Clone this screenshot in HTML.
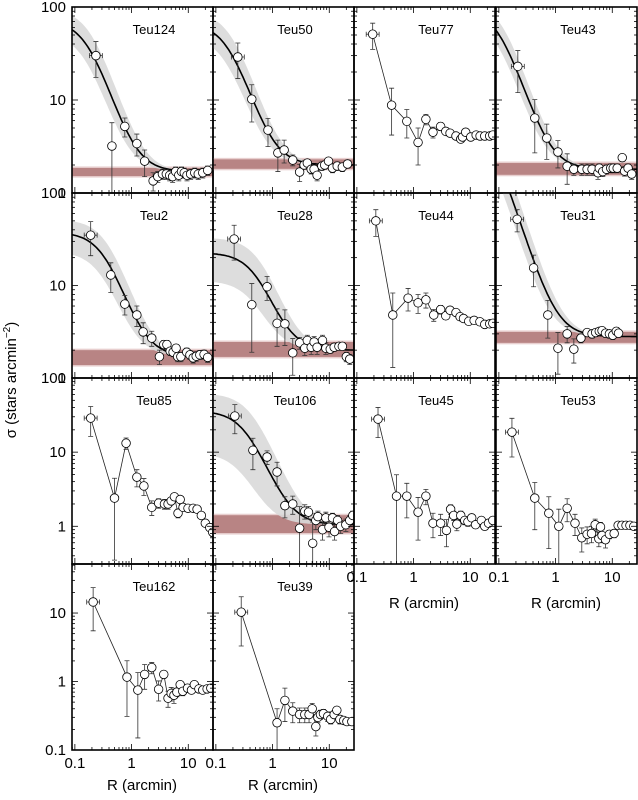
<!DOCTYPE html>
<html><head><meta charset="utf-8"><style>
html,body{margin:0;padding:0;background:#fff;}
svg{display:block;font-family:"Liberation Sans",sans-serif;}
</style></head><body>
<svg id="fig" width="638" height="800" viewBox="0 0 638 800"></svg>
<script>
// ---- data (R in arcmin, sigma in stars/arcmin^2, symmetric errors) ----
const teu124_r=[0.235,0.45,0.76,1.24,1.7,2.4,2.9,3.5,4.1,4.7,5.3,6,6.8,7.6,8.5,9.5,11,13,15,18,22];
const teu124_s=[30,3.2,5.2,3.4,2.2,1.35,1.5,1.6,1.6,1.55,1.5,1.7,1.55,1.7,1.65,1.55,1.6,1.65,1.6,1.65,1.75];
const teu124_e=[12.5,2.5,1.2,0.9,0.7,0.3,0.2,0.2,0.2,0.2,0.2,0.2,0.2,0.2,0.2,0.2,0.2,0.2,0.2,0.2,0.2];
const teu50_r=[0.244,0.43,0.83,1.24,1.6,2.27,3.0,3.6,4.1,4.8,5.4,6.1,7.4,8.3,9.7,11.4,13.8,17,21];
const teu50_s=[29,10.2,4.75,2.7,2.9,2.26,1.68,2.0,2.1,1.8,1.8,1.55,1.95,2.0,2.2,1.85,1.95,1.9,2.05];
const teu50_e=[12,4.4,1.6,1.0,0.8,0.3,0.35,0.2,0.2,0.2,0.2,0.2,0.2,0.2,0.2,0.2,0.2,0.2,0.2];
const teu77_r=[0.19,0.41,0.76,1.2,1.65,2.2,3.0,3.7,4.4,5.6,6.8,7.3,8.3,10.2,12.7,14.9,18,22,25];
const teu77_s=[51,8.8,5.9,3.5,6.2,4.5,5.2,4.6,4.4,4.1,3.8,4.0,4.5,4.0,4.2,4.1,4.1,4.1,4.2];
const teu77_e=[16,4.6,2.0,1.5,0.8,0.6,0.5,0.4,0.3,0.3,0.3,0.2,0.2,0.2,0.2,0.2,0.2,0.2,0.2];
const teu43_r=[0.216,0.43,0.7,1.1,1.6,2.1,2.9,3.6,4.4,5.6,5.9,6.8,7.9,9.4,10.4,12.2,15,16.5,19,22];
const teu43_s=[23,6.4,3.9,2.76,1.94,1.8,1.8,1.8,1.8,1.65,1.85,1.7,1.8,1.85,1.85,1.85,2.4,1.72,1.85,1.6];
const teu43_e=[11,3.7,1.6,0.9,0.7,0.25,0.25,0.25,0.25,0.25,0.2,0.2,0.2,0.2,0.2,0.2,0.2,0.2,0.2,0.2];
const teu2_r=[0.19,0.43,0.76,1.24,1.6,2.27,3.1,3.7,4.2,4.8,5.4,6.1,6.5,7.4,9.4,10.7,12.2,13.8,16,19,22];
const teu2_s=[35,13,6.3,4.8,3.15,2.7,1.7,2.3,2.3,1.95,1.9,2.1,1.7,1.7,1.9,1.78,1.65,1.72,1.78,1.8,1.67];
const teu2_e=[14,4.6,1.5,1.2,0.8,0.5,0.3,0.25,0.25,0.2,0.2,0.2,0.2,0.2,0.2,0.2,0.2,0.2,0.2,0.2,0.2];
const teu28_r=[0.21,0.43,0.8,1.2,1.65,2.27,3.0,3.7,4.1,4.8,5.4,6.1,7.6,8.7,10.4,12.2,14.8,17,20,23];
const teu28_s=[31.8,6.2,9.7,3.9,3.85,1.87,2.4,2.1,2.55,2.15,2.45,2.15,2.55,2.1,2.05,2.15,2.2,2.2,1.7,1.6];
const teu28_e=[13,4.3,2.8,1.7,1.6,0.8,0.35,0.35,0.35,0.35,0.35,0.35,0.35,0.3,0.2,0.2,0.2,0.2,0.2,0.2];
const teu44_r=[0.216,0.43,0.8,1.2,1.65,2.27,3.0,3.7,4.4,5.6,6.6,7.6,9.4,11.7,14.8,18,22,25];
const teu44_s=[50,4.8,7.3,6.5,7.0,4.8,5.5,4.7,5.4,5.1,4.6,4.4,4.1,4.2,4.05,3.8,3.85,3.9];
const teu44_e=[16,3.5,2.0,1.5,1.3,0.7,0.6,0.4,0.3,0.3,0.3,0.2,0.2,0.2,0.2,0.2,0.2,0.2];
const teu31_r=[0.21,0.41,0.73,1.1,1.6,2.1,2.8,3.6,4.4,5.1,5.9,6.6,7.6,8.9,10.2,11.8,12.9];
const teu31_s=[52,15.5,4.8,2.1,3.0,2.05,2.7,3.1,3.0,3.1,3.2,3.25,3.05,3.0,2.9,3.2,3.05];
const teu31_e=[14,5.8,2.1,1.0,0.6,0.6,0.3,0.3,0.3,0.3,0.3,0.3,0.3,0.3,0.3,0.3,0.3];
const teu85_r=[0.19,0.5,0.8,1.24,1.65,2.27,3.0,3.8,4.4,5.0,5.7,6.6,7.2,8.1,9.9,12.2,14.3,17,20,24,27];
const teu85_s=[28.8,2.4,13.2,4.6,3.5,1.8,2.05,2.0,2.0,2.2,2.5,1.5,2.3,1.8,1.75,1.75,1.7,1.4,1.1,0.96,0.83];
const teu85_e=[12.5,2.05,2.3,1.2,0.9,0.4,0.3,0.3,0.3,0.25,0.25,0.2,0.2,0.1,0.1,0.1,0.1,0.1,0.1,0.1,0.1];
const teu106_r=[0.216,0.45,0.8,1.2,1.65,2.27,3.0,3.7,4.3,5.1,5.8,6.3,7.6,8.7,9.9,11.4,12.4,14,15.9,19.6,23,26];
const teu106_s=[30.7,10.6,8.6,5.4,1.9,2.0,0.94,1.6,1.55,0.59,1.2,1.35,0.9,1.3,0.97,1.3,0.85,1.2,1.0,1.05,1.2,1.4];
const teu106_e=[13,4.8,1.8,1.9,0.6,0.55,0.9,0.35,0.3,0.55,0.3,0.25,0.25,0.25,0.25,0.2,0.2,0.2,0.2,0.2,0.2,0.2];
const teu45_r=[0.236,0.5,0.76,1.2,1.65,2.2,3.0,3.8,4.5,5.1,5.8,6.8,8.0,9.1,10.6,12.4,15.7,18,21,25];
const teu45_s=[27.9,2.55,2.55,1.55,2.55,1.1,1.1,0.88,1.7,1.4,1.07,1.4,1.2,1.15,1.3,1.05,1.2,1.0,1.1,1.2];
const teu45_e=[12.2,2.4,1.25,0.9,0.6,0.4,0.35,0.35,0.25,0.2,0.2,0.2,0.15,0.15,0.15,0.1,0.1,0.1,0.1,0.1];
const teu53_r=[0.17,0.43,0.76,1.14,1.6,2.2,2.9,3.6,4.3,5.0,5.8,6.2,6.6,7.6,8.9,10.8,12.7,14.8,17.5,20.5,24];
const teu53_s=[18.6,2.4,1.5,1.0,1.75,1.1,0.7,0.78,0.8,1.05,0.68,0.98,0.75,0.66,0.78,0.8,1.03,1.03,1.03,1.03,1.0];
const teu53_e=[10,1.5,1.0,0.7,0.6,0.35,0.25,0.2,0.2,0.2,0.15,0.15,0.15,0.15,0.1,0.1,0.05,0.05,0.05,0.05,0.05];
const teu162_r=[0.21,0.83,1.29,1.7,2.27,3.0,3.7,4.4,5.0,5.6,6.3,7.2,8.0,9.7,11.4,12.8,15.4,18,21.5,25];
const teu162_s=[14.5,1.16,0.75,1.27,1.6,0.77,1.27,0.57,0.67,0.63,0.7,0.9,0.72,0.8,0.75,0.9,0.78,0.75,0.78,0.8];
const teu162_e=[9,0.85,0.6,0.5,0.3,0.25,0.15,0.15,0.15,0.15,0.1,0.1,0.1,0.1,0.05,0.05,0.05,0.05,0.05,0.05];
const teu39_r=[0.28,1.2,1.65,2.27,3.0,3.7,4.4,5.0,5.8,6.3,7.0,7.9,9.4,10.6,12.2,13.6,15.4,18,20.5,25];
const teu39_s=[10.3,0.25,0.53,0.37,0.33,0.33,0.33,0.4,0.22,0.3,0.33,0.34,0.31,0.28,0.33,0.38,0.28,0.27,0.26,0.26];
const teu39_e=[7,0.15,0.27,0.12,0.08,0.08,0.08,0.08,0.06,0.05,0.05,0.05,0.05,0.04,0.04,0.04,0.04,0.03,0.03,0.03];
// King fits: [background, central amplitude, core radius]
const teu124_fit=[1.7,70,0.172], teu50_fit=[2.0,65,0.169], teu43_fit=[1.8,95,0.103];
const teu2_fit=[1.7,36,0.34], teu28_fit=[2.0,20.6,0.52], teu31_fit=[2.8,760,0.06], teu106_fit=[1.05,35,0.33];
// uncertainty envelope: [amp factor low, rc factor low, amp factor high, rc factor high]
const teu124_env=[0.72,0.87,1.35,1.15], teu50_env=[0.72,0.87,1.35,1.15], teu43_env=[0.8,0.88,1.25,1.12];
const teu2_env=[0.6,0.87,1.4,1.15], teu28_env=[0.45,0.85,1.5,1.2], teu31_env=[0.75,0.88,1.3,1.12], teu106_env=[0.25,0.8,1.75,1.3];
// background band [low, high]
const teu124_bg=[1.52,1.86], teu50_bg=[1.82,2.3], teu43_bg=[1.57,2.1];
const teu2_bg=[1.38,2.0], teu28_bg=[1.69,2.45], teu31_bg=[2.4,3.15], teu106_bg=[0.81,1.41];

const panels=[
 {n:'Teu124',c:0,w:0,r:teu124_r,s:teu124_s,e:teu124_e,fit:teu124_fit,env:teu124_env,bg:teu124_bg},
 {n:'Teu50',c:1,w:0,r:teu50_r,s:teu50_s,e:teu50_e,fit:teu50_fit,env:teu50_env,bg:teu50_bg},
 {n:'Teu77',c:2,w:0,r:teu77_r,s:teu77_s,e:teu77_e},
 {n:'Teu43',c:3,w:0,r:teu43_r,s:teu43_s,e:teu43_e,fit:teu43_fit,env:teu43_env,bg:teu43_bg},
 {n:'Teu2',c:0,w:1,r:teu2_r,s:teu2_s,e:teu2_e,fit:teu2_fit,env:teu2_env,bg:teu2_bg},
 {n:'Teu28',c:1,w:1,r:teu28_r,s:teu28_s,e:teu28_e,fit:teu28_fit,env:teu28_env,bg:teu28_bg},
 {n:'Teu44',c:2,w:1,r:teu44_r,s:teu44_s,e:teu44_e},
 {n:'Teu31',c:3,w:1,r:teu31_r,s:teu31_s,e:teu31_e,fit:teu31_fit,env:teu31_env,bg:teu31_bg},
 {n:'Teu85',c:0,w:2,r:teu85_r,s:teu85_s,e:teu85_e},
 {n:'Teu106',c:1,w:2,r:teu106_r,s:teu106_s,e:teu106_e,fit:teu106_fit,env:teu106_env,bg:teu106_bg},
 {n:'Teu45',c:2,w:2,r:teu45_r,s:teu45_s,e:teu45_e},
 {n:'Teu53',c:3,w:2,r:teu53_r,s:teu53_s,e:teu53_e},
 {n:'Teu162',c:0,w:3,r:teu162_r,s:teu162_s,e:teu162_e},
 {n:'Teu39',c:1,w:3,r:teu39_r,s:teu39_s,e:teu39_e}
];
const rows=[{t:7,b:193,lo:1,hi:100,labels:[100,10,1]},{t:193,b:378,lo:1,hi:100,labels:[100,10,1]},
 {t:378,b:564,lo:0.31,hi:100,labels:[100,10,1]},{t:564,b:750,lo:0.1,hi:52,labels:[10,1,0.1]}];
const colL=[72,213,354,496], PW=141, XMIN=0.089, XMAX=0.089*Math.pow(10,141/56.7);

const NS='http://www.w3.org/2000/svg', svg=document.getElementById('fig');
function mk(tag,attrs,parent){const e=document.createElementNS(NS,tag);for(const k in attrs)e.setAttribute(k,attrs[k]);(parent||svg).appendChild(e);return e;}
function sx(L,v){return L+(Math.log10(v)-Math.log10(XMIN))/(Math.log10(XMAX)-Math.log10(XMIN))*PW;}
function sy(R,v){return R.b-(Math.log10(v)-Math.log10(R.lo))/(Math.log10(R.hi)-Math.log10(R.lo))*(R.b-R.t);}
function king(f,amp,rc,x){return f[0]+amp/(1+Math.pow(x/rc,2));}

const defs=mk('defs',{});
panels.forEach((p,i)=>{
 const R=rows[p.w], L=colL[p.c];
 const cp=mk('clipPath',{id:'cp'+i},defs); mk('rect',{x:L,y:R.t,width:PW,height:R.b-R.t},cp);
 const g=mk('g',{'clip-path':'url(#cp'+i+')'});
 
 
 if(p.fit){
  const N=80, xs=[];for(let k=0;k<=N;k++)xs.push(XMIN*Math.pow(XMAX/XMIN,k/N));
  // background band
  const bb=mk('rect',{x:L,y:sy(R,p.bg[1])-1.5,width:PW,height:sy(R,p.bg[0])-sy(R,p.bg[1])+3,fill:'#e8cfcf'},g);
  
  const b=mk('rect',{x:L,y:sy(R,p.bg[1]),width:PW,height:sy(R,p.bg[0])-sy(R,p.bg[1]),fill:'#b88484'},g);
  
  // envelope
  const f=p.fit, ev=p.env;
  let up=xs.map(x=>[sx(L,x),sy(R,king(f,f[1]*ev[2],f[2]*ev[3],x))]);
  let dn=xs.map(x=>[sx(L,x),sy(R,king(f,f[1]*ev[0],f[2]*ev[1],x))]).reverse();
  const env=mk('path',{d:'M'+up.concat(dn).map(q=>q[0].toFixed(1)+','+q[1].toFixed(1)).join('L')+'Z',fill:'#d9d9d9',opacity:'0.9'},g);
  
  const ln=mk('path',{d:'M'+xs.map(x=>sx(L,x).toFixed(1)+','+sy(R,king(f,f[1],f[2],x)).toFixed(1)).join('L'),fill:'none',stroke:'#000','stroke-width':1.6},g);
  
 } else {
  const pl=mk('polyline',{points:p.r.map((x,k)=>sx(L,x).toFixed(1)+','+sy(R,p.s[k]).toFixed(1)).join(' '),fill:'none',stroke:'#222','stroke-width':0.8},g);
  
 }
 p.r.forEach((x,k)=>{
  const X=sx(L,x), Y=sy(R,p.s[k]);
  const lo=Math.max(p.s[k]-p.e[k],R.lo*0.5), hi=p.s[k]+p.e[k];
  const y1=sy(R,hi), y2=sy(R,lo);
  const eb=mk('path',{d:`M${X},${y1}L${X},${y2}M${X-2.5},${y1}L${X+2.5},${y1}M${X-2.5},${y2}L${X+2.5},${y2}`,stroke:'#333','stroke-width':0.8,fill:'none'},g);
  
  if(k===0){const xa=sx(L,x/1.3), xb=sx(L,x*1.3);
   const xe=mk('path',{d:`M${xa},${Y}L${xb},${Y}M${xa},${Y-2.5}L${xa},${Y+2.5}M${xb},${Y-2.5}L${xb},${Y+2.5}`,stroke:'#333','stroke-width':0.8,fill:'none'},g);
   }
 });
 p.r.forEach((x,k)=>{
  const c=mk('circle',{cx:sx(L,x),cy:sy(R,p.s[k]),r:4.3,fill:'#fff',stroke:'#000','stroke-width':0.8},g);
  
 });
 // ticks
 const tk=mk('g',{stroke:'#000','stroke-width':0.8});
 
 for(let d=-2;d<=2;d++)for(let m=1;m<10;m++){const v=m*Math.pow(10,d);if(v<XMIN||v>XMAX)continue;
  const X=sx(L,v), len=m===1?6:3;
  mk('line',{x1:X,y1:R.t,x2:X,y2:R.t+len},tk);mk('line',{x1:X,y1:R.b,x2:X,y2:R.b-len},tk);}
 for(let d=-2;d<=2;d++)for(let m=1;m<10;m++){const v=m*Math.pow(10,d);if(v<R.lo||v>R.hi)continue;
  const Y=sy(R,v), len=m===1?6:3;
  mk('line',{x1:L,y1:Y,x2:L+len,y2:Y},tk);mk('line',{x1:L+PW,y1:Y,x2:L+PW-len,y2:Y},tk);}
 const fr=mk('rect',{x:L,y:R.t,width:PW,height:R.b-R.t,fill:'none',stroke:'#000','stroke-width':1.6});
 
 const tt=mk('text',{x:L+82,y:R.t+27,'font-size':13,'text-anchor':'middle'});tt.textContent=p.n;
 
});
// y tick labels
rows.forEach(R=>{R.labels.forEach(v=>{
 const t=mk('text',{x:66,y:sy(R,v)+5,'font-size':15,'text-anchor':'end'});t.textContent=String(v);
 });});
// x tick labels & titles
[[0,750,785],[1,750,785],[2,564,603],[3,564,603]].forEach(a=>{const L=colL[a[0]];
 [0.1,1,10].forEach(v=>{const t=mk('text',{x:sx(L,v),y:a[1]+18,'font-size':15,'text-anchor':'middle'});t.textContent=String(v);
  });
 const xt=mk('text',{x:L+70,y:a[2]+5,'font-size':15,'text-anchor':'middle'});xt.textContent='R (arcmin)';
 
});
const yt=mk('text',{x:0,y:0,'font-size':15,'text-anchor':'middle',transform:'translate(16,380) rotate(-90)'});
yt.innerHTML='σ (stars arcmin<tspan dy="-6" font-size="10">−2</tspan><tspan dy="6">)</tspan>';

</script>
</body></html>
